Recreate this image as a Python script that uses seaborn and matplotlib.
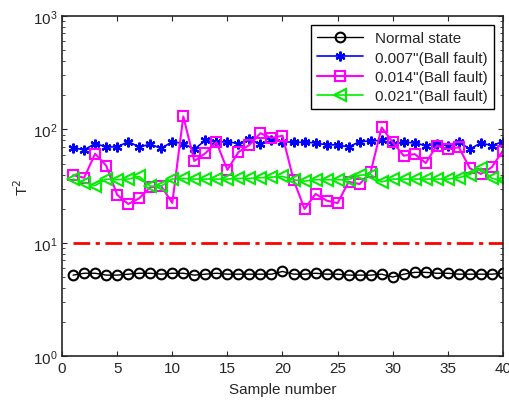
import numpy as np
import pandas as pd
import seaborn as sns
from matplotlib import pyplot as plt

samples = list(range(1, 41))

normal = [5.2, 5.4, 5.4, 5.2, 5.2, 5.3, 5.4, 5.4, 5.3, 5.4,
          5.4, 5.2, 5.3, 5.4, 5.3, 5.3, 5.3, 5.3, 5.3, 5.6,
          5.3, 5.3, 5.4, 5.3, 5.3, 5.2, 5.2, 5.2, 5.3, 5.0,
          5.3, 5.5, 5.5, 5.4, 5.4, 5.3, 5.3, 5.3, 5.3, 5.4]
fault_007 = [69, 66, 75, 70, 70, 78, 70, 74, 68, 78,
             75, 67, 80, 77, 78, 75, 82, 74, 80, 78,
             77, 77, 76, 73, 73, 70, 78, 79, 80, 74,
             77, 76, 72, 74, 72, 78, 67, 76, 72, 78]
fault_014 = [39.5, 37.5, 61, 48, 26.5, 22, 24.7, 31, 31.6, 22.5,
             130, 52.7, 61.6, 77, 44, 63, 73, 92.5, 84, 88,
             36, 19.9, 27, 23.6, 22.4, 34.5, 33, 42, 104, 77,
             58.6, 60.6, 50.5, 72, 67, 69.6, 45.5, 40.5, 46.5, 65]
fault_021 = [36.5, 34, 32, 36.5, 36, 36.5, 38.5, 31.6, 31.6, 36.5,
             37, 36.5, 36.5, 36.5, 36.5, 37, 37, 37.5, 38, 38.5,
             36, 35, 36, 36, 36, 36, 39.5, 40, 34.5, 36.5,
             36.5, 36.5, 36.5, 36.5, 36.5, 37.5, 40, 45.5, 37, 35.5]
threshold = 10

sns.set_style("ticks")
plt.rcParams['font.family'] = ['Liberation Sans', 'DejaVu Sans']
plt.rcParams['font.size'] = 11

fig = plt.figure(figsize=(5.09, 4.02), dpi=100)
ax = fig.add_axes([0.122, 0.111, 0.866, 0.847])

df = pd.DataFrame({'x': samples, 'normal': normal, 'f007': fault_007,
                   'f014': fault_014, 'f021': fault_021})

sns.lineplot(data=df, x='x', y='normal', ax=ax, color='black', lw=1,
             marker='o', ms=7, mfc='none', mec='black', mew=1.5,
             label='Normal state')
sns.lineplot(data=df, x='x', y='f007', ax=ax, color='#0000ff', lw=1.2,
             marker=(6, 2, 0), ms=7, mfc='#0000ff', mec='#0000ff', mew=1.6,
             label='0.007"(Ball fault)')
sns.lineplot(data=df, x='x', y='f014', ax=ax, color='#ff00ff', lw=1.5,
             marker='s', ms=7, mfc='none', mec='#ff00ff', mew=1.5,
             label='0.014"(Ball fault)')
sns.lineplot(data=df, x='x', y='f021', ax=ax, color='#00ee00', lw=1.2,
             marker='<', ms=8, mfc='none', mec='#00ee00', mew=1.5,
             label='0.021"(Ball fault)')
ax.plot(samples, [threshold] * len(samples), color='red', lw=2,
        linestyle=(0, (6, 2, 1.5, 2)))

ax.set_yscale('log')
ax.set_ylim(1, 1000)
ax.set_xlim(0, 40)
ax.set_xticks(range(0, 41, 5))
ax.set_xlabel('Sample number', labelpad=5)
ax.set_ylabel('T$^2$', labelpad=1)
ax.tick_params(direction='in', which='both', top=True, right=True)
for s in ax.spines.values():
    s.set_linewidth(1.2)

leg = ax.legend(loc='upper right', fancybox=False, framealpha=1,
                edgecolor='black', borderaxespad=0.6, handlelength=3.0,
                borderpad=0.4, labelspacing=0.35)
leg.get_frame().set_linewidth(1)

plt.savefig('out.png', dpi=100)
